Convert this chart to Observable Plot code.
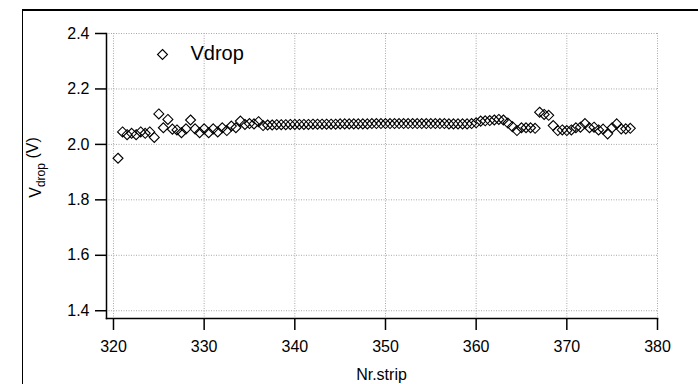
<!DOCTYPE html>
<html><head><meta charset="utf-8">
<script src="https://cdn.jsdelivr.net/npm/d3@7"></script>
<script src="https://cdn.jsdelivr.net/npm/@observablehq/plot@0.6"></script>
<style>
body{margin:0;background:#fff;}
#wrap{position:relative;width:698px;height:384px;overflow:hidden;background:#fff;}
#frame{position:absolute;left:22px;top:9px;width:800px;height:500px;border-left:1.5px solid #000;border-top:2px solid #000;}
#wrap svg{position:absolute;left:0;top:0;}
</style></head><body>
<div id="wrap"><div id="frame"></div></div>
<script>
const strip = [
 320.5,321,321.5,322,322.5,323,323.5,324,324.5,325,325.5,326,326.5,327,327.5,328,328.5,329,329.5,330,
 330.5,331,331.5,332,332.5,333,333.5,334,334.5,335,335.5,336,336.5,337,337.5,338,338.5,339,339.5,340,
 340.5,341,341.5,342,342.5,343,343.5,344,344.5,345,345.5,346,346.5,347,347.5,348,348.5,349,349.5,350,
 350.5,351,351.5,352,352.5,353,353.5,354,354.5,355,355.5,356,356.5,357,357.5,358,358.5,359,359.5,360,
 360.5,361,361.5,362,362.5,363,363.5,364,364.5,365,365.5,366,366.5,367,367.5,368,368.5,369,369.5,370,
 370.5,371,371.5,372,372.5,373,373.5,374,374.5,375,375.5,376,376.5,377
];
const vdrop = [
 1.95,2.045,2.035,2.04,2.035,2.045,2.04,2.045,2.025,2.11,2.06,2.09,2.055,2.052,2.042,2.056,2.088,2.056,2.042,2.056,
 2.042,2.056,2.045,2.06,2.05,2.066,2.06,2.084,2.072,2.075,2.074,2.082,2.068,2.070,2.070,2.071,2.071,2.071,2.072,2.072,
 2.072,2.072,2.072,2.073,2.073,2.073,2.073,2.073,2.073,2.074,2.074,2.074,2.074,2.074,2.074,2.074,2.075,2.075,2.075,2.075,
 2.075,2.075,2.075,2.075,2.075,2.075,2.075,2.075,2.075,2.075,2.075,2.075,2.075,2.074,2.074,2.074,2.074,2.074,2.075,2.078,
 2.084,2.085,2.086,2.088,2.09,2.088,2.077,2.064,2.05,2.06,2.06,2.06,2.058,2.116,2.108,2.105,2.068,2.05,2.052,2.05,
 2.052,2.06,2.062,2.075,2.06,2.062,2.052,2.055,2.038,2.06,2.074,2.056,2.056,2.058
];
const xTicks = [320,330,340,350,360,370,380];
const yTicks = [1.4,1.6,1.8,2.0,2.2,2.4];
const seriesName = "Vdrop";
const xLabel = "Nr.strip";

const data = strip.map((s,i)=>({strip:s, vdrop:vdrop[i]}));

const W=698,H=384,mL=106,mR=41,mT=33,mB=66;
const gridStyle = {stroke:"#a8a8a8", strokeOpacity:1, strokeDasharray:"1,1.5", strokeWidth:1};

const chart = Plot.plot({
  width:W, height:H, marginLeft:mL, marginRight:mR, marginTop:mT, marginBottom:mB,
  style:{fontFamily:"'Liberation Sans', Arial, sans-serif", fontSize:"16px", background:"transparent", color:"#000", overflow:"visible"},
  x:{domain:[319.23,380], label:null},
  y:{domain:[1.372,2.4], label:null},
  marks:[
    Plot.gridX(xTicks, gridStyle),
    Plot.gridY(yTicks, gridStyle),
    Plot.axisX({ticks:xTicks, tickSize:12, tickPadding:10, label:null, tickFormat:d3.format("d"), strokeWidth:1.5}),
    Plot.axisY({ticks:yTicks, tickSize:11, tickPadding:6, label:null, tickFormat:d3.format(".1f"), strokeWidth:1.5}),
    Plot.frame({anchor:"left", strokeWidth:1.5}),
    Plot.frame({anchor:"bottom", strokeWidth:1.5}),
    Plot.dot(data, {x:"strip", y:"vdrop", symbol:"diamond2", r:4.5, stroke:"#000", fill:"none", strokeWidth:1.1}),
    Plot.dot([seriesName], {frameAnchor:"top-left", dx:56, dy:21, symbol:"diamond2", r:4.5, stroke:"#000", fill:"none", strokeWidth:1.1}),
    Plot.text([seriesName], {frameAnchor:"top-left", dx:84, dy:20, text:d=>d, textAnchor:"start", lineAnchor:"middle", fontSize:20, fill:"#000"})
  ]
});

const svg = d3.select(chart);
svg.append("text")
  .attr("x", mL + (W-mL-mR)/2).attr("y", 380)
  .attr("text-anchor","middle").attr("font-size",16).attr("fill","#000")
  .text(xLabel);
const yl = svg.append("text")
  .attr("transform", `translate(41,${mT+(H-mT-mB)/2 - 8}) rotate(-90)`)
  .attr("text-anchor","middle").attr("font-size",16).attr("fill","#000");
yl.append("tspan").text("V");
yl.append("tspan").attr("font-size",12).attr("dy","0.3em").text("drop");
yl.append("tspan").attr("dy","-0.4em").text(" (V)");

document.getElementById("wrap").appendChild(chart);
</script>
</body></html>
